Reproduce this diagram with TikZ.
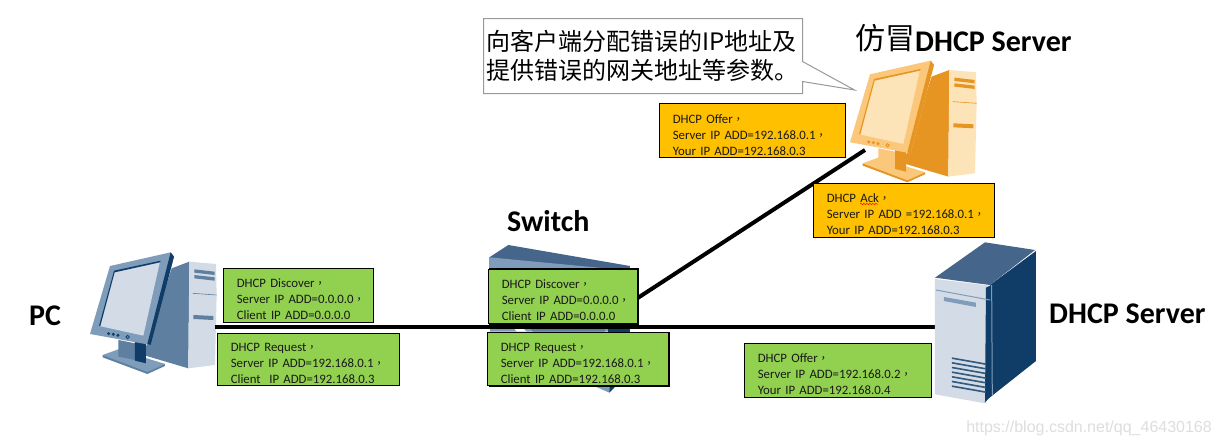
\documentclass[tikz,border=0pt]{standalone}
\usepackage{fontspec}
\setmainfont{Carlito}
\newfontfamily\cjk{Noto Sans CJK SC}
\newfontfamily\cjkc{Noto Sans CJK TC}
\newfontfamily\wmfont{Liberation Sans}
\usetikzlibrary{decorations.pathmorphing}
\newcommand{\cmma}{{\cjkc\fontsize{11}{16}\selectfont ，}}
\newcommand{\tlines}[3]{\raisebox{-8pt}[24pt][24pt]{\begin{tabular}[c]{@{}l@{}}#1\\#2\\#3\end{tabular}}}
\definecolor{boxgreen}{HTML}{92D050}
\definecolor{boxorange}{HTML}{FFC000}
\definecolor{boxblue}{HTML}{7F9DBB}
\definecolor{boxscreen}{HTML}{D3DCE6}
\definecolor{boxdark}{HTML}{0F3D68}
\definecolor{boxside}{HTML}{5E7F9F}
\definecolor{boxtop}{HTML}{46658A}
\definecolor{fkframe}{HTML}{FBC77B}
\definecolor{fkscreen}{HTML}{FDE3B8}
\definecolor{fkedge}{HTML}{E69523}
\tikzset{
  infobox/.style={draw=black,line width=1pt,anchor=north west,inner xsep=13pt,inner ysep=0pt,align=left,
    font=\fontsize{12.8}{16}\selectfont,text=black!90},
  greenbox/.style={infobox,fill=boxgreen},
  orangebox/.style={infobox,fill=boxorange},
  title/.style={font=\fontsize{30}{32}\selectfont\bfseries,text=black,inner sep=0pt},
  link/.style={line width=4pt,black},
}
\newcommand{\computer}[8]{% shift x, shift y, frame, screen, edge, side, front, neck
\begin{scope}[shift={(#1,#2)},x=.3333pt,y=-.3333pt]
  \fill[#6] (335,85) -- (388,65) -- (385,385) -- (250,345) -- cycle;
  \fill[#7] (388,65) -- (468,72) -- (470,165) -- (465,375) -- (385,385) -- cycle;
  \draw[#6,line width=.6pt] (398,160) -- (470,165);
  \fill[#6] (403,88) -- (464,95) -- (464,105) -- (403,98) -- cycle;
  \fill[#6] (403,105) -- (464,112) -- (464,122) -- (403,115) -- cycle;
  \fill[#6] (400,225) -- (460,228) -- (460,240) -- (400,237) -- cycle;
  \fill[#6] (128,345) -- (128,352) -- (262,402) -- (315,378) -- (315,372) -- cycle;
  \fill[#3] (128,345) -- (175,328) -- (315,372) -- (262,396) -- cycle;
  \fill[#8] (175,300) -- (225,310) -- (225,360) -- (175,350) -- cycle;
  \fill[#5] (225,305) -- (258,310) -- (258,370) -- (225,362) -- cycle;
  \fill[#3] (150,78) -- (332,37) -- (342,50) -- (272,315) -- (90,282) -- cycle;
  \fill[#5] (332,37) -- (342,50) -- (272,315) -- (262,312) -- cycle;
  \fill[#4] (162,95) -- (300,65) -- (250,287) -- (118,258) -- cycle;
  \fill[#5] (162,92) -- (302,62) -- (300,67) -- (164,97) -- (121,258) -- (117,258) -- cycle;
  \foreach \px/\py in {146/281,160/283,174/286} \fill[#5] (\px,\py) circle (5);
  \draw[#5,line width=.8pt] (203,291) circle (5);
\end{scope}}
\begin{document}
\begin{tikzpicture}[x=1pt,y=-1pt]
\useasboundingbox (0,0) rectangle (1220,445);
\fill[white] (0,0) rectangle (1220,445);
\coordinate (pcport) at (215,327);
\coordinate (srvport) at (936,327);
\coordinate (swport) at (630,303);
\coordinate (fakeport) at (865,150);
\draw[link] (swport) -- (fakeport);
% PC
\computer{60}{240}{boxblue}{boxscreen}{boxdark}{boxside}{boxscreen}{boxside}
% fake server
\computer{820}{48.3}{fkframe}{fkscreen}{fkedge}{fkedge}{fkscreen}{fkframe}
% switch
\begin{scope}[shift={(470,200)},x=.3333pt,y=-.3333pt]
  \fill[boxtop] (58,172) -- (115,135) -- (480,198) -- (480,240) -- (58,240) -- cycle;
  \fill[boxblue] (58,172) -- (480,212) -- (480,395) -- (60,395) -- cycle;
  \fill[boxdark] (415,376) -- (480,376) -- (480,396) -- (415,396) -- cycle;
  \fill[white] (125,376) -- (150,376) -- (170,395) -- (140,395) -- cycle;
  \fill[boxside] (170,376) -- (405,376) -- (405,395) -- (190,395) -- cycle;
  \fill[boxblue] (365,555) -- (440,555) -- (418,578) -- cycle;
  \fill[boxdark] (420,555) -- (440,555) -- (418,578) -- cycle;
\end{scope}
\draw[link] (pcport) -- (srvport);
% DHCP server
\begin{scope}[shift={(730,235)},x=.3333pt,y=-.3333pt]
  \fill[boxdark] (780,150) -- (918,48) -- (918,378) -- (770,495) -- cycle;
  \fill[boxtop] (615,128) -- (765,22) -- (915,45) -- (780,150) -- cycle;
  \fill[boxscreen] (615,132) -- (782,152) -- (765,505) -- (615,478) -- cycle;
  \fill[boxdark] (768,158) -- (785,150) -- (780,485) -- (765,503) -- cycle;
  \draw[boxblue,line width=1pt] (618,165) -- (780,195);
  \draw[boxblue,line width=1pt] (785,150) -- (787,482);
  \fill[boxblue] (642,186) -- (738,203) -- (738,216) -- (642,198) -- cycle;
  \foreach \sy in {367,381,395,409,423,437,451}
    \fill[boxdark!85!white] (666,\sy) -- (768,{\sy+18}) -- (768,{\sy+23}) -- (666,{\sy+5}) -- cycle;
\end{scope}
% labels
\node[title,anchor=west] (pclabel) at (29,316) {PC};
\node[title,anchor=west] (swlabel) at (507,221) {Switch};
\node[title,anchor=west] (srvlabel) at (1049,314) {DHCP Server};
\node[title,anchor=west] (fakelabel) at (855,38) {\raisebox{2pt}{\fontsize{30}{30}\selectfont\mdseries\cjk 仿冒}DHCP Server};
% callout
\draw[draw=black!40,fill=white,line width=1pt] (483.5,18.5) -- (802.5,18.5) -- (802.5,61.5) -- (854.5,90) -- (802.5,81.5) -- (802.5,93.5) -- (483.5,93.5) -- cycle;
\node[anchor=west,inner sep=0pt,align=left,font=\fontsize{24}{29.5}\selectfont\cjk,text=black] (callout) at (486,56) {向客户端分配错误的IP地址及\\提供错误的网关地址等参数。};
% boxes
\node[greenbox,text width=123.4pt,minimum height=53.4pt] (pcdisc) at (223.3,268.3) {\tlines{DHCP Discover\cmma}{Server IP ADD=0.0.0.0\cmma}{Client IP ADD=0.0.0.0}};
\node[greenbox,text width=155.4pt,minimum height=52.6pt] (pcreq) at (217.3,332.7) {\tlines{DHCP Request\cmma}{Server IP ADD=192.168.0.1\cmma}{Client\ \ IP ADD=192.168.0.3}};
\draw[line width=1pt,fill=boxgreen] (489.3,268.3) rectangle (638,324.3);
\node[greenbox,text width=123pt,minimum height=54.3pt] (swdisc) at (488.3,269) {\tlines{DHCP Discover\cmma}{Server IP ADD=0.0.0.0\cmma}{Client IP ADD=0.0.0.0}};
\draw[line width=1pt,fill=boxgreen] (489,332.3) rectangle (669,386);
\node[greenbox,text width=154.4pt,minimum height=53.3pt] (swreq) at (487.3,331.7) {\tlines{DHCP Request\cmma}{Server IP ADD=192.168.0.1\cmma}{Client IP ADD=192.168.0.3}};
\node[orangebox,text width=160pt,minimum height=54pt] (fakeoffer) at (659.3,103.3) {\tlines{DHCP Offer\cmma}{Server IP ADD=192.168.0.1\cmma}{Your IP ADD=192.168.0.3}};
\node[orangebox,text width=155pt,minimum height=53.4pt] (fakeack) at (813.3,183.3) {\tlines{DHCP Ack\cmma}{Server IP ADD =192.168.0.1\cmma}{Your IP ADD=192.168.0.3}};
\draw[red,line width=.5pt,decorate,decoration={snake,amplitude=.6pt,segment length=3pt}] (860,204) -- (878,204);
\node[greenbox,text width=160.4pt,minimum height=53.4pt] (srvoffer) at (744.3,343.3) {\tlines{DHCP Offer\cmma}{Server IP ADD=192.168.0.2\cmma}{Your IP ADD=192.168.0.4}};
\node[anchor=east,inner sep=0pt,font=\fontsize{16}{18}\selectfont\wmfont,text=black!13] (wm) at (1212,428) {https://blog.csdn.net/qq\_46430168};
\end{tikzpicture}
\end{document}
